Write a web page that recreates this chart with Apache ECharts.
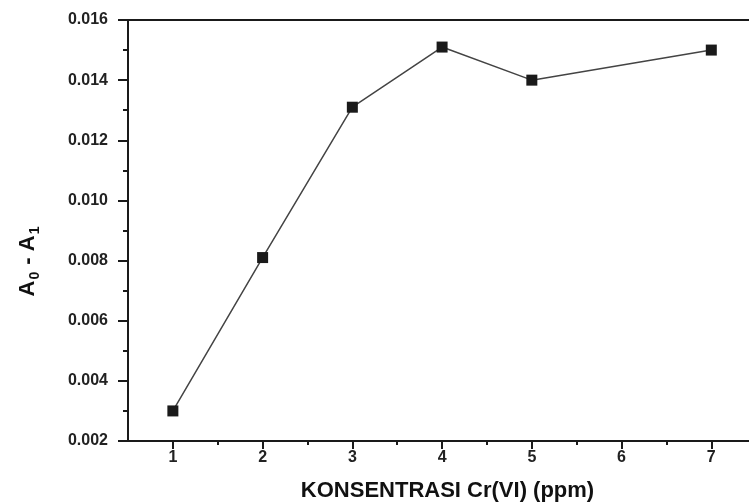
<!DOCTYPE html>
<html>
<head>
<meta charset="utf-8">
<script src="https://cdn.jsdelivr.net/npm/echarts@6/dist/echarts.min.js"></script>
<style>
html,body{margin:0;padding:0;background:#ffffff;}
#chart{width:749px;height:504px;}
</style>
</head>
<body>
<div id="chart"></div>
<script>
// Data
var concentrations = [1, 2, 3, 4, 5, 7];
var absorbanceDiff = [0.0030, 0.0081, 0.0131, 0.0151, 0.0140, 0.0150];
var xTickValues = [1, 2, 3, 4, 5, 6, 7];
var xMinorTickValues = [1.5, 2.5, 3.5, 4.5, 5.5, 6.5];
var xAxisTitle = 'KONSENTRASI Cr(VI) (ppm)';

var points = concentrations.map(function (c, i) { return [c, absorbanceDiff[i]]; });

var chart = echarts.init(document.getElementById('chart'));
var font = 'Liberation Sans, Arial, sans-serif';
var axisColor = '#1a1a1a';
var textColor = '#222';

chart.setOption({
  backgroundColor: '#ffffff',
  animation: false,
  grid: { left: 128, right: 0, top: 20, bottom: 63, containLabel: false, outerBoundsMode: 'none' },
  xAxis: [
    {
      type: 'value', position: 'bottom', min: 0.5, max: 7.42,
      name: xAxisTitle, nameLocation: 'middle', nameGap: 39,
      nameTextStyle: { fontFamily: font, fontWeight: 'bold', fontSize: 22, color: '#111', padding: [0, 0, 0, 18] },
      axisLine: { show: true, onZero: false, lineStyle: { color: axisColor, width: 2 } },
      axisTick: { show: true, customValues: xTickValues, length: 8, lineStyle: { color: axisColor, width: 2 } },
      axisLabel: { show: true, customValues: xTickValues, margin: 9, fontFamily: font, fontWeight: 'bold', fontSize: 16, color: textColor },
      splitLine: { show: false }
    },
    {
      type: 'value', position: 'bottom', min: 0.5, max: 7.42,
      axisLine: { show: false, onZero: false },
      axisTick: { show: true, customValues: xMinorTickValues, length: 4, lineStyle: { color: axisColor, width: 2 } },
      axisLabel: { show: false },
      splitLine: { show: false }
    },
    {
      type: 'value', position: 'top', min: 0.5, max: 7.42,
      axisLine: { show: true, onZero: false, lineStyle: { color: axisColor, width: 2 } },
      axisTick: { show: false }, axisLabel: { show: false }, splitLine: { show: false }
    }
  ],
  yAxis: {
    type: 'value', min: 0.002, max: 0.016, interval: 0.002,
    axisLine: { show: true, onZero: false, lineStyle: { color: axisColor, width: 2 } },
    axisTick: { show: true, length: 10, lineStyle: { color: axisColor, width: 2 } },
    minorTick: { show: true, splitNumber: 2, length: 5, lineStyle: { color: axisColor, width: 2 } },
    axisLabel: {
      margin: 20, fontFamily: font, fontWeight: 'bold', fontSize: 16, color: textColor,
      formatter: function (v) { return v.toFixed(3); }
    },
    splitLine: { show: false }
  },
  graphic: [{
    type: 'text', x: 28, y: 261, rotation: Math.PI / 2,
    style: {
      text: 'A{sub|0} - A{sub|1}',
      align: 'center', verticalAlign: 'middle',
      font: 'bold 22px Liberation Sans, Arial, sans-serif', fill: '#111',
      rich: { sub: { fontFamily: font, fontWeight: 'bold', fontSize: 14, fill: '#111', padding: [14, 1, 0, 1] } }
    }
  }],
  series: [{
    type: 'line', xAxisIndex: 0, data: points,
    symbol: 'rect', symbolSize: 11,
    itemStyle: { color: '#1a1a1a' },
    lineStyle: { color: '#444', width: 1.5 }
  }]
});
</script>
</body>
</html>
